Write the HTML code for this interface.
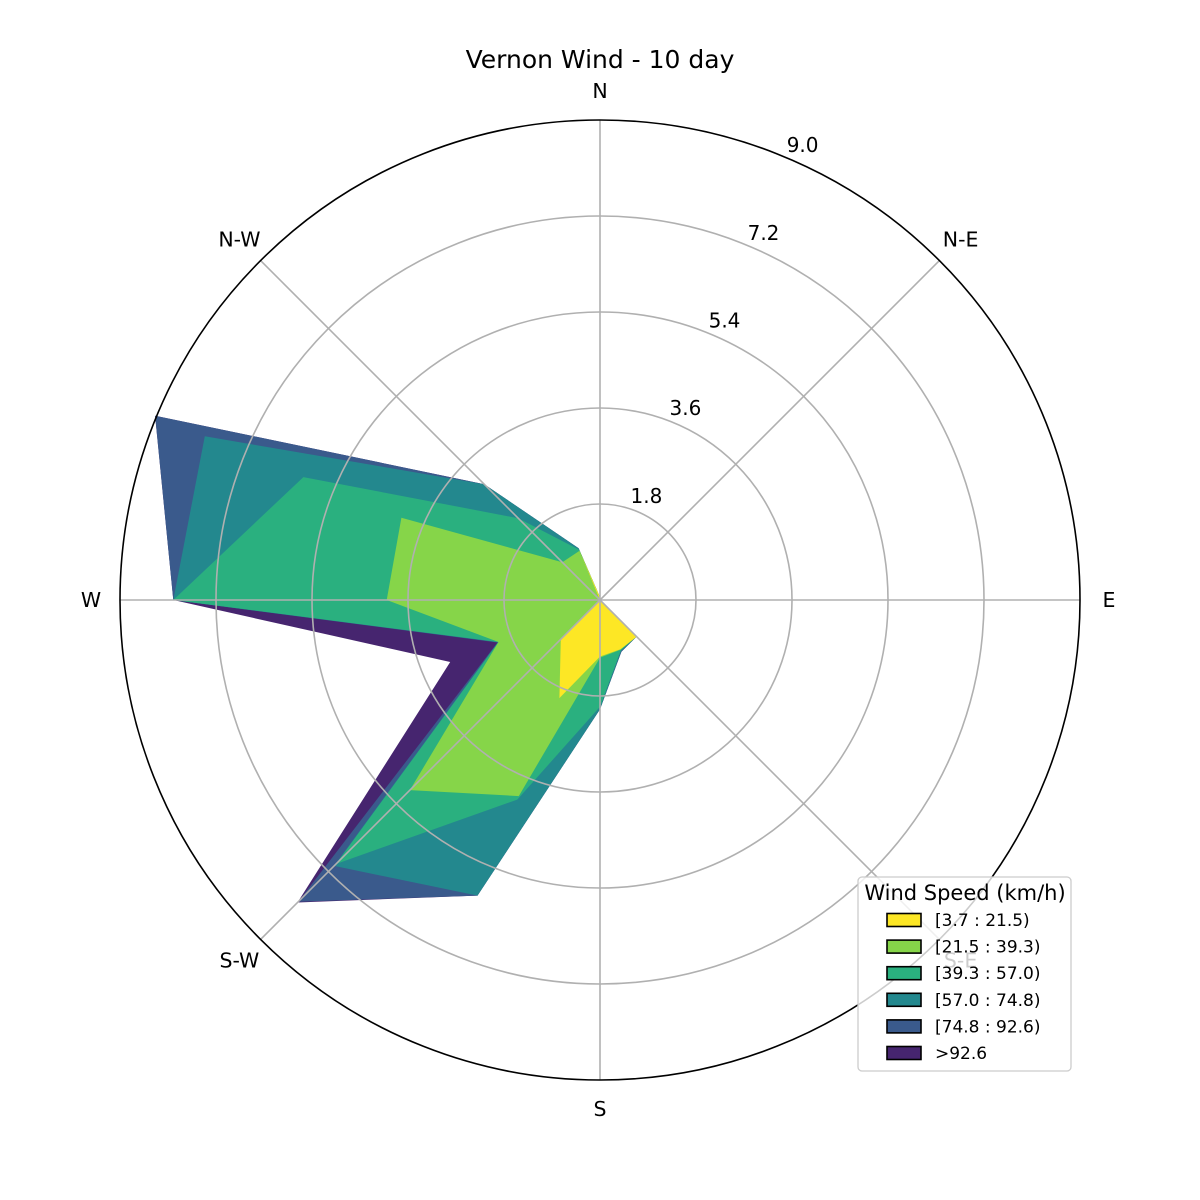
<!DOCTYPE html>
<html><head><meta charset="utf-8"><style>
html,body{margin:0;padding:0;background:#fff;}
svg{display:block;font-family:"DejaVu Sans","Liberation Sans",sans-serif;}
</style></head><body>
<svg id="chart" width="1200" height="1200" viewBox="0 0 1200 1200">
<rect width="1200" height="1200" fill="#fff"/>
<text x="600" y="68" font-size="25" text-anchor="middle">Vernon Wind - 10 day</text>
<g id="fills"></g>
<g id="grid"></g>
<g id="labels"></g>
<g id="legend"></g>
</svg>
<script>
// directions: N, NNE, NE, ENE, E, ESE, SE, SSE, S, SSW, SW, WSW, W, WNW, NW, NNW
const directions = ["N","NNE","NE","ENE","E","ESE","SE","SSE","S","SSW","SW","WSW","W","WNW","NW","NNW"];
const bin1 = [0.05,0,0,0,0,0,0.97,1.0,1.06,1.99,1.04,0,0,0,0,0.95];
const bin2 = [0,0,0,0,0,0,0,0.01,0.02,1.99,4.0,2.06,4.0,4.03,1.0,0.05];
const bin3 = [0,0,0,0,0,0,0,0.01,0.92,0.07,1.96,0,4.0,1.99,1.17,0.02];
const bin4 = [0,0,0,0,0,0,0,0.02,0.05,1.95,0.05,0.01,0,2.0,0.9,0.03];
const bin5 = [0,0,0,0,0,0,0,0.01,0,0,0.95,0.01,0,1.01,0,0];
const bin6 = [0,0,0,0,0,0,0,0,0,0,0.02,0.96,0,0,0,0];
const binLabels = ["[3.7 : 21.5)","[21.5 : 39.3)","[39.3 : 57.0)","[57.0 : 74.8)","[74.8 : 92.6)",">92.6"];
const radialTicks = [1.8,3.6,5.4,7.2,9.0];
const compassLabels = ["N","N-E","E","S-E","S","S-W","W","N-W"];

const colors = ["#fde725","#86d549","#2ab07f","#23888e","#3a5a8c","#46256f"];
const NS="http://www.w3.org/2000/svg";
const cx=600, cy=600, R=480, rmax=9.0;
const rScale = v => v/rmax*R;
const pt = (ang, v) => { const a=ang*Math.PI/180, r=rScale(v); return [cx+r*Math.sin(a), cy-r*Math.cos(a)]; };
function mk(tag, attrs, parent){ const e=document.createElementNS(NS,tag); for(const k in attrs) e.setAttribute(k,attrs[k]); parent.appendChild(e); return e; }

const bins=[bin1,bin2,bin3,bin4,bin5,bin6];
const cum=[]; let run=directions.map(()=>0);
bins.forEach(b=>{ run=run.map((v,i)=>v+b[i]); cum.push(run.slice()); });

const fills=document.getElementById('fills');
for(let k=bins.length-1;k>=0;k--){
  const pts=cum[k].map((v,i)=>pt(i*22.5,v).map(n=>n.toFixed(1)).join(',')).join(' ');
  const p=mk('polygon',{points:pts,fill:colors[k]},fills);
  
  
}

const grid=document.getElementById('grid');
radialTicks.slice(0,4).forEach(t=>{
  const c=mk('circle',{cx:cx,cy:cy,r:rScale(t),fill:'none',stroke:'#b0b0b0','stroke-width':1.6},grid);
  
  
});
for(let i=0;i<8;i++){
  const [x,y]=pt(i*45,rmax);
  const l=mk('line',{x1:cx,y1:cy,x2:x,y2:y,stroke:'#b0b0b0','stroke-width':1.6},grid);
  
  
}
const oc=mk('circle',{cx:cx,cy:cy,r:R,fill:'none',stroke:'#000','stroke-width':1.6},grid);



const labels=document.getElementById('labels');
compassLabels.forEach((s,i)=>{
  const a=i*45*Math.PI/180;
  let x, y;
  if(i%2===0){ x=cx+(R+29)*Math.sin(a); y=cy-(R+29)*Math.cos(a)+7; }
  else { x=cx+510*Math.sin(a); y=cy-510*Math.cos(a)+7; }
  const t=mk('text',{x:x.toFixed(1),y:y.toFixed(1),'font-size':20.5,'text-anchor':'middle',fill:'#000'},labels);
  t.textContent=s;
  
  
});
radialTicks.forEach(v=>{
  const a=24*Math.PI/180, r=rScale(v)+18;
  const t=mk('text',{x:(cx+r*Math.sin(a)).toFixed(1),y:(cy-r*Math.cos(a)+7).toFixed(1),'font-size':20,'text-anchor':'middle'},labels);
  t.textContent=v.toFixed(1);
  
  
});

const lg=document.getElementById('legend');
const box=mk('rect',{x:858,y:877,width:213,height:194,rx:4,fill:'#fff','fill-opacity':0.8,stroke:'#ccc','stroke-width':1.3},lg);


const lt=mk('text',{x:965,y:900,'font-size':21,'text-anchor':'middle'},lg);
lt.textContent='Wind Speed (km/h)';


binLabels.forEach((s,i)=>{
  const y=920+i*26.6;
  const r=mk('rect',{x:887,y:y-6.5,width:34,height:13,fill:colors[i],stroke:'#000','stroke-width':1.6},lg);
  
  
  const t=mk('text',{x:935,y:y+6,'font-size':17},lg);
  t.textContent=s;
  
  
});
</script>
</body></html>
